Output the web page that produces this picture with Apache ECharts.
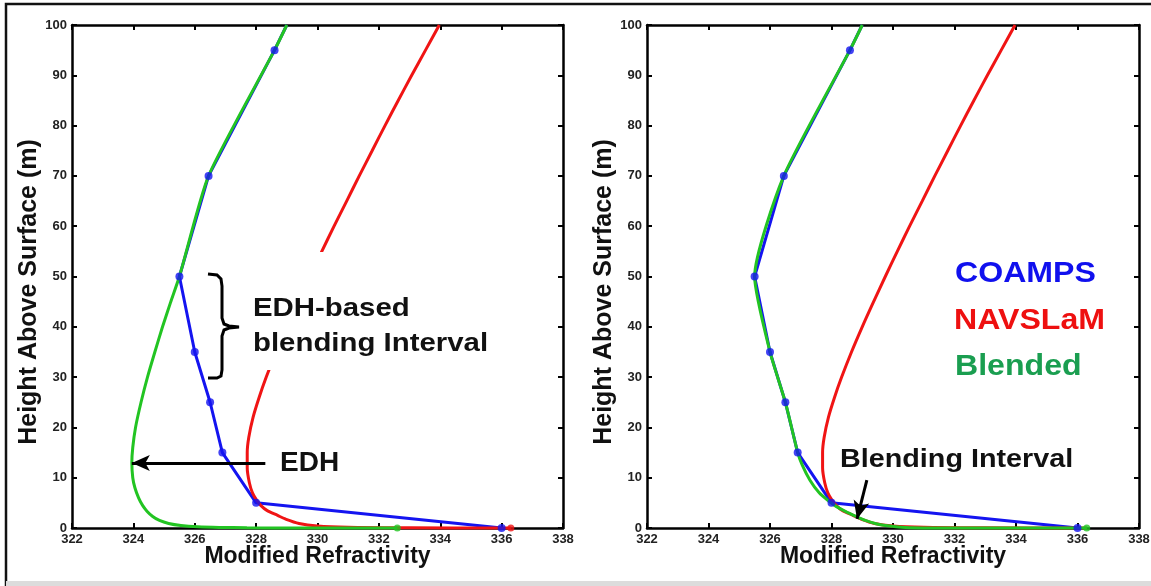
<!DOCTYPE html>
<html>
<head>
<meta charset="utf-8">
<title>Modified Refractivity profiles</title>
<script src="https://cdn.jsdelivr.net/npm/echarts@6/dist/echarts.min.js"></script>
<style>
  html, body { margin: 0; padding: 0; background: #fff; }
  #chart { width: 1151px; height: 586px; }
</style>
</head>
<body>
<div id="chart"></div>
<script>
// ---- values ----
// COAMPS profile (blue, same in both panels)
const coampsM = [336.0, 328.0, 326.9, 326.5, 326.0, 325.5, 326.45, 328.6, 329.0];
const coampsZ = [0, 5, 15, 25, 35, 50, 70, 95, 100];
const coampsDots = 8; // first 8 levels carry a marker

// NAVSLaM profile (red, same in both panels)
const navslamZ = [0, 0.05, 0.15, 0.4, 0.9, 1.8, 2.5, 3.5, 4.5, 5.5, 7, 9, 12, 15, 18, 22, 26, 30, 35, 40, 45, 50, 55, 60, 65, 70, 75, 80, 85, 90, 95, 100];
const navslamM = [336.3, 333.0, 331.0, 330.0, 329.4, 328.95, 328.7, 328.35, 328.15, 328.02, 327.88, 327.78, 327.71, 327.71, 327.76, 327.9, 328.1, 328.33, 328.65, 329.0, 329.37, 329.75, 330.14, 330.54, 330.95, 331.36, 331.78, 332.2, 332.63, 333.07, 333.52, 333.97];

// Blended, EDH-based (left panel, green)
const blendEdhZ = [0, 0, 0.05, 0.12, 0.25, 0.5, 0.9, 1.5, 2.3, 3.3, 4.5, 6, 8, 10, 13, 16, 20, 25, 30, 35, 40, 45, 50, 70, 95, 100];
const blendEdhM = [332.6, 329.5, 327.7, 326.8, 326.1, 325.55, 325.15, 324.85, 324.63, 324.45, 324.3, 324.17, 324.05, 323.98, 323.95, 323.98, 324.07, 324.25, 324.46, 324.7, 324.95, 325.22, 325.5, 326.45, 328.6, 329.0];

// Blended, blending interval (right panel, green)
const blendZ = [0, 0, 0.05, 0.27, 0.5, 0.85, 1.5, 2.3, 3.3, 4.3, 5.4, 7, 9.5, 12.5, 15, 25, 35, 50, 70, 95, 100];
const blendM = [336.3, 332.0, 330.6, 330.1, 329.75, 329.45, 329.1, 328.8, 328.45, 328.15, 327.9, 327.6, 327.3, 327.05, 326.9, 326.5, 326.0, 325.5, 326.45, 328.6, 329.0];

// axes
const mMin = 322, mMax = 338, mStep = 2;
const zMin = 0, zMax = 100, zStep = 10;

const BLUE = '#1414f0', RED = '#f01414', GREEN = '#22c422';
const FONT = '"Liberation Sans", Arial, sans-serif';

const zip = (xs, ys) => xs.map((x, i) => [x, ys[i]]);

const chart = echarts.init(document.getElementById('chart'), null, { renderer: 'canvas' });

const grids = [
  { left: 72, top: 25, width: 491, height: 503, containLabel: false, outerBoundsMode: 'none' },
  { left: 647, top: 25, width: 492, height: 503, containLabel: false, outerBoundsMode: 'none' }
];

const axisLine = { onZero: false, lineStyle: { color: '#000', width: 2.5 } };
const axisTick = { inside: true, length: 5, lineStyle: { color: '#000', width: 2 } };
const tickFont = { color: '#222', fontSize: 13, fontWeight: 'bold', fontFamily: FONT };

const xAxes = [], yAxes = [];
[0, 1].forEach(g => {
  xAxes.push({
    gridIndex: g, type: 'value', position: 'bottom', min: mMin, max: mMax, interval: mStep,
    axisLine, axisTick, splitLine: { show: false },
    axisLabel: Object.assign({ margin: 5 }, tickFont),
    name: 'Modified Refractivity', nameLocation: 'middle', nameGap: 17, nameMoveOverlap: false,
    nameTextStyle: { color: '#111', fontSize: 23, fontWeight: 'bold', fontFamily: FONT }
  });
  xAxes.push({
    gridIndex: g, type: 'value', position: 'top', min: mMin, max: mMax, interval: mStep,
    axisLine, axisTick, splitLine: { show: false }, axisLabel: { show: false }
  });
  yAxes.push({
    gridIndex: g, type: 'value', position: 'left', min: zMin, max: zMax, interval: zStep,
    axisLine, axisTick, splitLine: { show: false },
    axisLabel: Object.assign({ margin: 5 }, tickFont)
  });
  yAxes.push({
    gridIndex: g, type: 'value', position: 'right', min: zMin, max: zMax, interval: zStep,
    axisLine, axisTick, splitLine: { show: false }, axisLabel: { show: false }
  });
});

function line(name, data, color, g, z, extra) {
  return Object.assign({
    name, type: 'line', data, xAxisIndex: g * 2, yAxisIndex: g * 2,
    showSymbol: false, clip: false, z, animation: false, silent: true,
    lineStyle: { color, width: 3 }, itemStyle: { color }
  }, extra || {});
}

function arrow(from, to) {
  return {
    silent: true, animation: false, symbolSize: [12, 18],
    label: { show: false },
    lineStyle: { color: '#000', width: 3, type: 'solid' },
    itemStyle: { color: '#000' },
    data: [[{ coord: from, symbol: 'none' }, { coord: to, symbol: 'arrow' }]]
  };
}

const coampsLine = zip(coampsM, coampsZ);
const coampsMarks = coampsLine.slice(0, coampsDots);
const navslamLine = zip(navslamM, navslamZ);

const series = [];
// left panel
series.push(line('COAMPS', coampsLine, BLUE, 0, 2));
series.push(line('NAVSLaM', navslamLine, RED, 0, 3, { smooth: 0.3 }));
series.push(line('Blended', zip(blendEdhM, blendEdhZ), GREEN, 0, 4,
  { smooth: 0.2, markLine: arrow([328.3, 12.9], [323.95, 12.9]) }));
// right panel
series.push(line('COAMPS', coampsLine, BLUE, 1, 2));
series.push(line('NAVSLaM', navslamLine, RED, 1, 3, { smooth: 0.3 }));
series.push(line('Blended', zip(blendM, blendZ), GREEN, 1, 4,
  { smooth: 0.2, markLine: arrow([329.15, 9.5], [328.83, 1.8]) }));

[0, 1].forEach(g => {
  series.push({
    type: 'scatter', xAxisIndex: g * 2, yAxisIndex: g * 2, data: coampsMarks,
    symbol: 'circle', symbolSize: 8, itemStyle: { color: BLUE }, z: 10, clip: false,
    silent: true, animation: false
  });
});
// end dots at the surface
series.push({
  type: 'scatter', xAxisIndex: 0, yAxisIndex: 0, symbolSize: 7, z: 9, clip: false, silent: true, animation: false,
  data: [
    { value: [blendEdhM[0], blendEdhZ[0]], itemStyle: { color: GREEN } },
    { value: [navslamM[0], navslamZ[0]], itemStyle: { color: RED } }
  ]
});
series.push({
  type: 'scatter', xAxisIndex: 2, yAxisIndex: 2, symbolSize: 7, z: 9, clip: false, silent: true, animation: false,
  data: [
    { value: [blendM[0], blendZ[0]], itemStyle: { color: GREEN } }
  ]
});

const bold = size => `bold ${size}px ${FONT}`;
const yTitle = x => ({
  type: 'text', z: 51, x, y: 292, rotation: Math.PI / 2,
  style: { text: 'Height Above Surface (m)', font: bold(25), fill: '#111', align: 'center', verticalAlign: 'middle' }
});
const graphic = [
  // outer frame
  { type: 'polyline', z: 60, shape: { points: [[6, 586], [6, 4], [1151, 4]] }, style: { stroke: '#111', lineWidth: 2.5, fill: null } },
  { type: 'rect', z: 60, shape: { x: 6, y: 581, width: 1145, height: 5 }, style: { fill: '#dcdcdc' } },
  yTitle(29),
  yTitle(604),
  // label box over the red curve
  { type: 'rect', z: 50, shape: { x: 244, y: 252, width: 252, height: 118 }, style: { fill: '#fff' } },
  // bracket
  { type: 'polyline', z: 51,
    shape: { points: [[208, 274], [217, 275], [221, 279], [222, 286], [222, 318], [224, 324], [229, 326], [239, 327],
                      [229, 328], [224, 330], [222, 336], [222, 370], [221, 376], [217, 378], [208, 378]] },
    style: { stroke: '#000', lineWidth: 3, fill: null } },
  { type: 'text', z: 51, x: 253, y: 309, scaleX: 1.13, style: { text: 'EDH-based', font: bold(26), fill: '#111', verticalAlign: 'middle' } },
  { type: 'text', z: 51, x: 253, y: 344, scaleX: 1.13, style: { text: 'blending Interval', font: bold(26), fill: '#111', verticalAlign: 'middle' } },
  { type: 'text', z: 51, x: 280, y: 463, style: { text: 'EDH', font: bold(28), fill: '#111', verticalAlign: 'middle' } },
  { type: 'text', z: 51, x: 840, y: 460, scaleX: 1.15, style: { text: 'Blending Interval', font: bold(25), fill: '#111', verticalAlign: 'middle' } },
  // legend
  { type: 'text', z: 51, x: 955, y: 274, scaleX: 1.07, style: { text: 'COAMPS', font: bold(30), fill: '#1010ee', verticalAlign: 'middle' } },
  { type: 'text', z: 51, x: 954, y: 321, scaleX: 1.07, style: { text: 'NAVSLaM', font: bold(30), fill: '#ee1010', verticalAlign: 'middle' } },
  { type: 'text', z: 51, x: 955, y: 367, scaleX: 1.07, style: { text: 'Blended', font: bold(30), fill: '#1a9e50', verticalAlign: 'middle' } }
];

chart.setOption({
  backgroundColor: '#fff',
  animation: false,
  grid: grids,
  xAxis: xAxes,
  yAxis: yAxes,
  series,
  graphic
});
</script>
</body>
</html>
